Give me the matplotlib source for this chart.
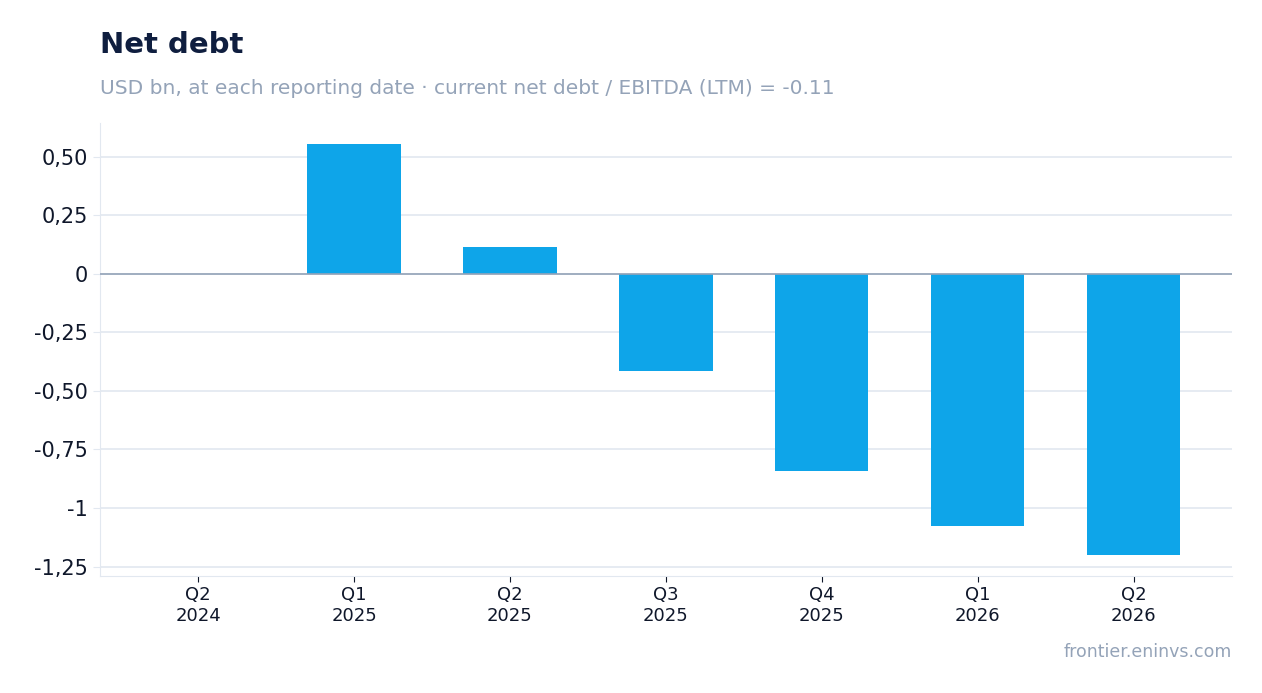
import matplotlib
matplotlib.use("Agg")
import matplotlib.pyplot as plt

categories = ["Q2\n2024", "Q1\n2025", "Q2\n2025", "Q3\n2025", "Q4\n2025", "Q1\n2026", "Q2\n2026"]
values = [0.0, 0.556, 0.115, -0.415, -0.842, -1.077, -1.20]
yticks = [0.5, 0.25, 0, -0.25, -0.5, -0.75, -1, -1.25]
ytick_labels = ["0,50", "0,25", "0", "-0,25", "-0,50", "-0,75", "-1", "-1,25"]

fig = plt.figure(figsize=(12.62, 6.93), dpi=100)
ax = fig.add_axes([0.0792, 0.169, 0.8968, 0.6535])
x = range(len(categories))
ax.bar(x, values, width=0.6, color="#0ea5e9", zorder=3)
ax.axhline(0, color="#94a3b8", lw=1.2, zorder=4)
ax.set_ylim(-1.29, 0.645)
ax.set_xlim(-0.63, 6.63)
ax.set_yticks(yticks)
ax.set_yticklabels(ytick_labels, fontsize=15, color="#0f172a")
ax.set_xticks(list(x))
ax.set_xticklabels(categories, fontsize=13, color="#0f172a")
ax.grid(axis="y", color="#e2e8f0", lw=1.2, zorder=0)
for s in ["top", "right"]:
    ax.spines[s].set_visible(False)
for s in ["left", "bottom"]:
    ax.spines[s].set_color("#e2e8f0")
ax.tick_params(axis="y", length=5, color="#e2e8f0")
ax.tick_params(axis="x", length=4, color="#0f172a")

fig.text(0.0792, 0.935, "Net debt", fontsize=21, fontweight="bold", color="#0f1e3f", va="center")
fig.text(0.0792, 0.873, "USD bn, at each reporting date · current net debt / EBITDA (LTM) = -0.11",
         fontsize=14.5, color="#94a3b8", va="center")
fig.text(0.976, 0.059, "frontier.eninvs.com", fontsize=12.5, color="#94a3b8", ha="right", va="center")
fig.savefig("out.png", dpi=100)
